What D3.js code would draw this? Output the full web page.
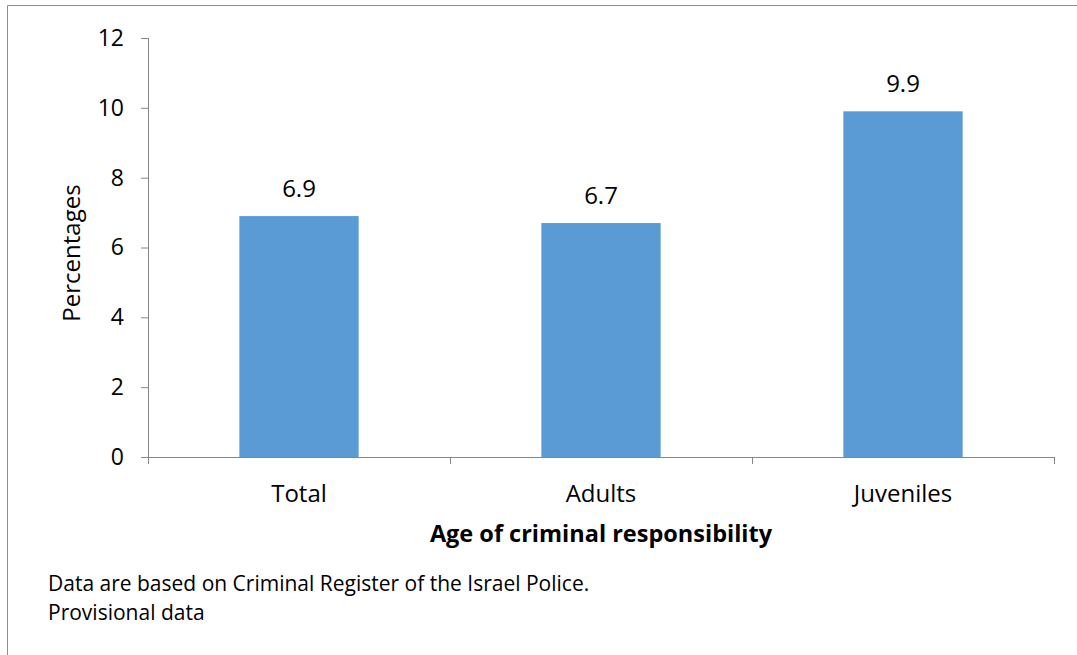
<!DOCTYPE html>
<html><head><meta charset="utf-8">
<script src="https://cdn.jsdelivr.net/npm/d3@7"></script>
<style>body{margin:0;background:#fff}svg{display:block}text{font-family:"Open Sans",sans-serif;fill:#000}</style>
</head><body>
<script>
const categories = ["Total", "Adults", "Juveniles"];
const values = [6.9, 6.7, 9.9];
const yTicks = [0, 2, 4, 6, 8, 10, 12];
const xTitle = "Age of criminal responsibility";
const yTitle = "Percentages";
const notes = ["Data are based on Criminal Register of the Israel Police.", "Provisional data"];

const W = 1077, H = 655;
const svg = d3.select("body").append("svg").attr("width", W).attr("height", H);
svg.append("path").attr("d", `M7.5,${H}V5.5H1077`).attr("fill","none").attr("stroke","#8c8c8c").attr("stroke-width",1);

const m = {l:148, r:1054, t:38, b:457};
const x = d3.scaleBand().domain(categories).range([m.l, m.r]).paddingInner(0.605).paddingOuter(0.3025);
const y = d3.scaleLinear().domain([0,12]).range([m.b, m.t]);

const yAx = svg.append("g").attr("transform",`translate(${m.l},0)`)
  .call(d3.axisLeft(y).tickValues(yTicks).tickSize(7).tickPadding(17).tickFormat(d3.format("d")));
yAx.selectAll("path,line").attr("stroke","#868686");
yAx.select(".domain").attr("d", `M0.5,${m.b}V${m.t}`);
yAx.selectAll("text").style("font-size","23px").style("font-family","'Open Sans',sans-serif").attr("fill","#000");

svg.selectAll("rect.bar").data(values).join("rect").attr("class","bar")
  .attr("x",(d,i)=>x(categories[i])).attr("width",x.bandwidth())
  .attr("y",d=>y(d)).attr("height",d=>y(0)-y(d)).attr("fill","#5B9BD5");

const xb = d3.scalePoint().domain(d3.range(categories.length+1)).range([m.l, m.r]);
const xAx = svg.append("g").attr("transform",`translate(0,${m.b})`);
xAx.append("line").attr("x1",m.l).attr("x2",m.r).attr("y1",0.5).attr("y2",0.5).attr("stroke","#868686");
xAx.selectAll("line.t").data(xb.domain()).join("line").attr("class","t")
  .attr("x1",d=>Math.round(xb(d))+0.5).attr("x2",d=>Math.round(xb(d))+0.5).attr("y1",0).attr("y2",7).attr("stroke","#868686");
xAx.selectAll("text").data(categories).join("text")
  .attr("x",d=>x(d)+x.bandwidth()/2).attr("y",45).attr("text-anchor","middle").style("font-size","24px").text(d=>d);

svg.selectAll("text.val").data(values).join("text").attr("class","val")
  .attr("x",(d,i)=>x(categories[i])+x.bandwidth()/2).attr("y",d=>y(d)-19)
  .attr("text-anchor","middle").style("font-size","24px").text(d=>d3.format(".1f")(d));

svg.append("text").attr("x",(m.l+m.r)/2).attr("y",542).attr("text-anchor","middle")
  .style("font-size","23.5px").style("font-weight","bold").text(xTitle);
svg.append("text").attr("transform",`translate(80,${253}) rotate(-90)`).attr("text-anchor","middle")
  .style("font-size","24px").text(yTitle);

svg.selectAll("text.note").data(notes).join("text").attr("class","note")
  .attr("x",48).attr("y",(d,i)=>591+i*29).style("font-size","21px").text(d=>d);
</script>
</body></html>
